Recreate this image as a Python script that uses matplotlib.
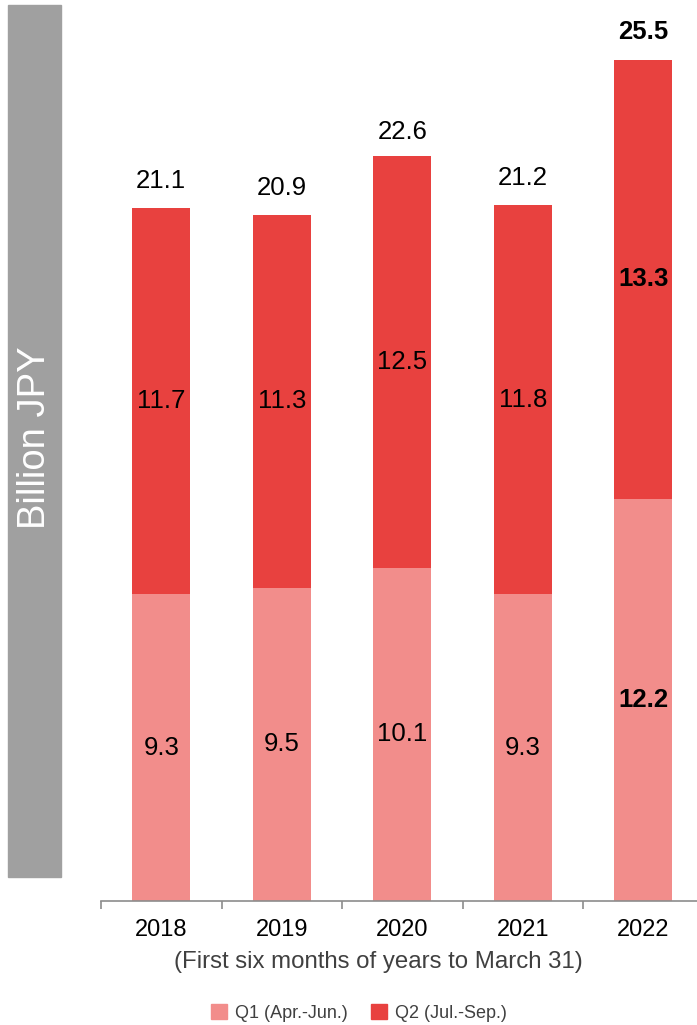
import numpy as np
import matplotlib.pyplot as plt
from matplotlib.patches import Rectangle

plt.rcParams['font.family'] = ['Liberation Sans', 'DejaVu Sans']

years = ['2018', '2019', '2020', '2021', '2022']
q1 = [9.3, 9.5, 10.1, 9.3, 12.2]
q2 = [11.7, 11.3, 12.5, 11.8, 13.3]
totals = [21.1, 20.9, 22.6, 21.2, 25.5]

c_q1 = '#F28D8B'
c_q2 = '#E8413F'

fig = plt.figure(figsize=(6.97, 10.25), dpi=100)
W, H = 697, 1025
# axes from x=101 to 703.5 px, y baseline at 901, top at 60 for 25.5
ax = fig.add_axes([101 / W, (H - 901) / H, 602.5 / W, 841 / H])

x = np.arange(len(years))
ax.bar(x, q1, width=0.48, color=c_q1, zorder=2)
ax.bar(x, q2, width=0.48, bottom=q1, color=c_q2, zorder=2)

for i in range(len(years)):
    w = 'bold' if i == len(years) - 1 else 'normal'
    ax.text(x[i], q1[i] / 2, f'{q1[i]:.1f}', ha='center', va='center',
            fontsize=18.5, fontweight=w, color='black')
    ax.text(x[i], q1[i] + q2[i] / 2, f'{q2[i]:.1f}', ha='center', va='center',
            fontsize=18.5, fontweight=w, color='black')
    off = 0.85 if i == len(years) - 1 else 0.72
    ax.text(x[i], totals[i] + off, f'{totals[i]:.1f}', ha='center', va='center',
            fontsize=18.5, fontweight=w, color='black', clip_on=False)

ax.set_xlim(-0.5, 4.5)
ax.set_ylim(0, 25.5)
ax.set_yticks([])
for s in ['top', 'right', 'left']:
    ax.spines[s].set_visible(False)
ax.spines['bottom'].set_color('#8c8c8c')
ax.spines['bottom'].set_linewidth(1.2)

ax.set_xticks(x)
ax.set_xticklabels(years, fontsize=17)
ax.tick_params(axis='x', which='major', length=0, pad=13)
ax.set_xticks(np.arange(-0.5, 5, 1), minor=True)
ax.tick_params(axis='x', which='minor', length=5.5, width=1.2, color='#8c8c8c',
               direction='out')

fig.text(378 / W, 1 - 962 / H, '(First six months of years to March 31)',
         ha='center', va='center', fontsize=17.3, color='#404040')

# gray side label box
fig.patches.append(Rectangle((8 / W, 1 - 877 / H), 53 / W, 872 / H,
                             transform=fig.transFigure, color='#A0A0A0', zorder=0))
fig.text(35 / W, 1 - 438 / H, 'Billion JPY', rotation=90, ha='center', va='center',
         fontsize=27.5, color='white')

handles = [Rectangle((0, 0), 1, 1, color=c_q1), Rectangle((0, 0), 1, 1, color=c_q2)]
fig.legend(handles, ['Q1 (Apr.-Jun.)', 'Q2 (Jul.-Sep.)'], loc='center',
           bbox_to_anchor=(359 / W, 1 - 1013 / H), ncol=2, frameon=False,
           fontsize=13, handlelength=0.85, handleheight=0.85, handletextpad=0.45,
           columnspacing=1.3, labelcolor='#404040')

fig.savefig('out.png', dpi=100)
